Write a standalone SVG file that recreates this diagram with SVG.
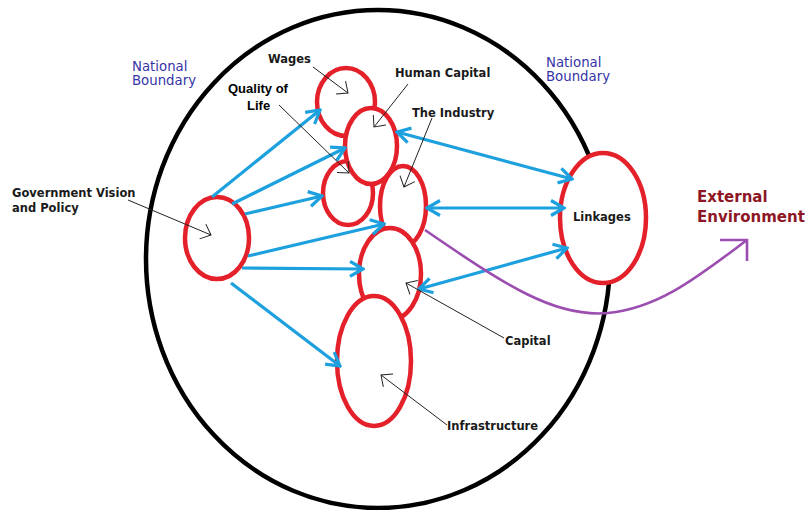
<svg xmlns="http://www.w3.org/2000/svg" width="808" height="510" viewBox="0 0 808 510">
<defs>
<style>
.node{fill:#fff;stroke:#E4202A;stroke-width:4.5}
.boundary{fill:none;stroke:#000;stroke-width:4.5}
.blue{fill:none;stroke:#1DA0DE;stroke-width:3.2}
.ptr{fill:none;stroke:#222;stroke-width:1}
.purple{fill:none;stroke:#9B4DB0;stroke-width:2.6}
.lbl{font-family:"DejaVu Sans",Verdana,sans-serif;font-weight:bold;font-size:11.5px;fill:#1a1a1a}
.nb{font-family:"DejaVu Sans",Verdana,sans-serif;font-size:13.3px;fill:#3535A8}
.ql{font-family:"Liberation Sans",Arial,sans-serif;font-weight:bold;font-size:13px;fill:#000}
.ext{font-family:"DejaVu Sans",Verdana,sans-serif;font-weight:bold;font-size:15px;fill:#8E1625}
</style>
<marker id="ab" viewBox="-16 -10 18 20" markerWidth="18" markerHeight="20" refX="0" refY="0" orient="auto-start-reverse" markerUnits="userSpaceOnUse">
<path d="M-13,-7.5 L0,0 L-13,7.5" fill="none" stroke="#1DA0DE" stroke-width="3.2"/>
</marker>
<marker id="ap" viewBox="-12 -10 14 20" markerWidth="14" markerHeight="20" refX="0" refY="0" orient="auto" markerUnits="userSpaceOnUse">
<path d="M-9,-8 L0,0 L-9,8" fill="none" stroke="#222" stroke-width="1"/>
</marker>
</defs>
<rect width="808" height="510" fill="#fff"/>

<g id="national-boundary">
<ellipse class="boundary" cx="378" cy="259" rx="232" ry="249"/>
<text class="nb" x="132" y="71">National</text>
<text class="nb" x="132" y="85">Boundary</text>
<text class="nb" x="546" y="67">National</text>
<text class="nb" x="546" y="81">Boundary</text>
</g>

<g id="wages"><ellipse class="node" cx="346" cy="102" rx="29" ry="34"/></g>
<g id="quality-of-life"><ellipse class="node" cx="348" cy="193" rx="25" ry="32"/></g>
<g id="human-capital"><ellipse class="node" cx="371" cy="146" rx="26" ry="38"/></g>
<g id="the-industry"><ellipse class="node" cx="403" cy="206" rx="23" ry="40"/></g>
<g id="capital"><ellipse class="node" cx="390" cy="274" rx="31" ry="46"/></g>
<g id="infrastructure"><ellipse class="node" cx="374" cy="361" rx="37" ry="65"/></g>
<g id="government-vision"><ellipse class="node" cx="217" cy="238" rx="32" ry="41"/></g>
<g id="linkages">
<ellipse class="node" cx="603" cy="218" rx="43" ry="65"/>
<text class="lbl" x="573" y="221" font-size="11">Linkages</text>
</g>

<g id="connectors">
<line class="blue" x1="212" y1="197" x2="320" y2="110" marker-end="url(#ab)"/>
<line class="blue" x1="232" y1="204" x2="345" y2="148" marker-end="url(#ab)"/>
<line class="blue" x1="245" y1="214" x2="322" y2="196" marker-end="url(#ab)"/>
<line class="blue" x1="248" y1="256" x2="384" y2="224" marker-end="url(#ab)"/>
<line class="blue" x1="242" y1="268" x2="363" y2="269" marker-end="url(#ab)"/>
<line class="blue" x1="231" y1="283" x2="340" y2="366" marker-end="url(#ab)"/>
<line class="blue" x1="397" y1="132" x2="572" y2="179" marker-start="url(#ab)" marker-end="url(#ab)"/>
<line class="blue" x1="427" y1="208" x2="564" y2="208" marker-start="url(#ab)" marker-end="url(#ab)"/>
<line class="blue" x1="419" y1="289" x2="567" y2="248" marker-start="url(#ab)" marker-end="url(#ab)"/>
<path class="purple" d="M425,230 C505,285 555,318 608,313 C660,308 700,275 747,240"/>
<path class="purple" d="M720,240 L747,240 L747,261"/>
</g>

<g id="pointers">
<line class="ptr" x1="128" y1="200" x2="211" y2="235" marker-end="url(#ap)"/>
<line class="ptr" x1="313" y1="67" x2="348" y2="93" marker-end="url(#ap)"/>
<line class="ptr" x1="408" y1="84" x2="374" y2="127" marker-end="url(#ap)"/>
<line class="ptr" x1="279" y1="105" x2="349" y2="173" marker-end="url(#ap)"/>
<line class="ptr" x1="432" y1="118" x2="404" y2="187" marker-end="url(#ap)"/>
<line class="ptr" x1="504" y1="338" x2="406" y2="283" marker-end="url(#ap)"/>
<line class="ptr" x1="447" y1="425" x2="381" y2="375" marker-end="url(#ap)"/>
</g>

<g id="labels">
<text class="lbl" x="12" y="197" font-size="11.8">Government Vision</text>
<text class="lbl" x="12" y="212" font-size="11.8">and Policy</text>
<text class="lbl" x="268" y="63" font-size="12">Wages</text>
<text class="lbl" x="395" y="77">Human Capital</text>
<text class="lbl" x="412" y="117">The Industry</text>
<text class="ql" x="228" y="93">Quality of</text>
<text class="ql" x="247" y="110">Life</text>
<text class="lbl" x="505" y="345">Capital</text>
<text class="lbl" x="447" y="430" font-size="11">Infrastructure</text>
<text class="ext" x="697" y="202">External</text>
<text class="ext" x="697" y="222">Environment</text>
</g>
</svg>
